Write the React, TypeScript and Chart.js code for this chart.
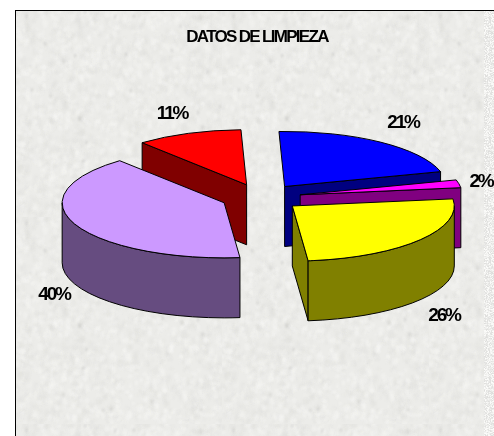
import React, { useEffect, useRef } from "react";
import { Chart, registerables } from "chart.js";

Chart.register(...registerables);

// ---- data ----
const categories = ["Azul", "Magenta", "Amarillo", "Lila", "Rojo"];
const values = [21.2, 2.3, 25.5, 40.4, 10.6];
const topColors = ["#0000FF", "#FF00FF", "#FFFF00", "#CC99FF", "#FF0000"];
const wallColors = ["#000080", "#800080", "#808000", "#664C80", "#800000"];
const titleText = "DATOS DE LIMPIEZA";

// ---- layout (not data) ----
const labelPositions: [number, number][] = [
  [403, 123],
  [481, 182],
  [444, 316],
  [54, 295],
  [172, 114],
];
const TILT = 0.34;
const EXPLODE = 40;
const DEPTH = 60;
const RADIUS = 162;

function makeTile(): HTMLCanvasElement {
  const size = 207;
  const c = document.createElement("canvas");
  c.width = size;
  c.height = size;
  const g = c.getContext("2d")!;
  g.fillStyle = "#ECECE9";
  g.fillRect(0, 0, size, size);
  let s = 12345;
  const next = () => {
    s = (s * 1103515245 + 12345) & 0x7fffffff;
    return s / 0x7fffffff;
  };
  g.filter = "blur(0.8px)";
  for (let i = 0; i < 2600; i++) {
    const x = next() * size;
    const y = next() * size;
    const r = 0.8 + next() * 2;
    const light = next() > 0.45;
    g.fillStyle = light ? "rgba(248,248,246,0.4)" : "rgba(222,222,219,0.3)";
    g.beginPath();
    g.ellipse(x, y, r, r * (0.7 + next()), 0, 0, Math.PI * 2);
    g.fill();
  }
  for (let i = 0; i < 28; i++) {
    const x = next() * size;
    const y = next() * size;
    g.fillStyle = "rgba(175,175,172,0.45)";
    g.beginPath();
    g.ellipse(x, y, 0.9, 2, 0, 0, Math.PI * 2);
    g.fill();
  }
  return c;
}

function makeStrip(): HTMLCanvasElement {
  const w = 10;
  const h = 120;
  const c = document.createElement("canvas");
  c.width = w;
  c.height = h;
  const g = c.getContext("2d")!;
  let s = 777;
  for (let y = 0; y < h; y++) {
    for (let x = 0; x < w; x++) {
      s = (s * 1103515245 + 12345) & 0x7fffffff;
      const v = 222 + Math.floor((s / 0x7fffffff) * 32);
      g.fillStyle = `rgb(${v},${v},${v - 2})`;
      g.fillRect(x, y, 1, 1);
    }
  }
  return c;
}

const paperPlugin = {
  id: "paper",
  beforeDraw(chart: any) {
    const { ctx, width, height } = chart;
    ctx.save();
    ctx.fillStyle = "#FFFFFF";
    ctx.fillRect(0, 0, width, height);
    ctx.translate(15, 10);
    ctx.fillStyle = ctx.createPattern(makeTile(), "repeat");
    ctx.fillRect(0, 0, width - 15, height - 10);
    ctx.restore();
    ctx.save();
    ctx.translate(484, 0);
    ctx.fillStyle = ctx.createPattern(makeStrip(), "repeat");
    ctx.fillRect(0, 11, 10, height - 11);
    ctx.restore();
    ctx.fillStyle = "#000000";
    ctx.fillRect(15, 10, width - 15, 1);
    ctx.fillRect(15, 10, 1, height - 10);
  },
};

function apex(arc: any) {
  const mid = (arc.startAngle + arc.endAngle) / 2;
  return {
    x: arc.x + EXPLODE * Math.cos(mid),
    y: arc.y + EXPLODE * TILT * Math.sin(mid),
  };
}

function drawFace(ctx: any, a: any, angle: number, r: number) {
  const ex = a.x + r * Math.cos(angle);
  const ey = a.y + r * TILT * Math.sin(angle);
  ctx.beginPath();
  ctx.moveTo(a.x, a.y);
  ctx.lineTo(ex, ey);
  ctx.lineTo(ex, ey + DEPTH);
  ctx.lineTo(a.x, a.y + DEPTH);
  ctx.closePath();
  ctx.fill();
  ctx.stroke();
}

const pie3dPlugin = {
  id: "pie3d",
  beforeDatasetsDraw(chart: any) {
    const { ctx } = chart;
    const arcs = chart.getDatasetMeta(0).data;
    ctx.save();
    ctx.lineWidth = 1;
    ctx.strokeStyle = "#000000";
    ctx.lineJoin = "round";
    // walls, back to front
    arcs.forEach((arc: any, i: number) => {
      const a = apex(arc);
      const r = arc.outerRadius;
      ctx.fillStyle = wallColors[i];
      const t0 = arc.startAngle;
      const t1 = arc.endAngle;
      // radial faces turned to the viewer
      if (Math.sin(t0 + Math.PI / 2) < -0.05) drawFace(ctx, a, t0, r);
      if (Math.sin(t1 + Math.PI / 2) > 0) drawFace(ctx, a, t1, r);
      // outer rim on the front half of the ellipse
      const f0 = Math.max(t0, 0);
      const f1 = Math.min(t1, Math.PI);
      if (f1 > f0) {
        ctx.beginPath();
        ctx.ellipse(a.x, a.y, r, r * TILT, 0, f0, f1);
        ctx.ellipse(a.x, a.y + DEPTH, r, r * TILT, 0, f1, f0, true);
        ctx.closePath();
        ctx.fill();
        ctx.stroke();
      }
    });
    // tops, drawn by the library's own arc elements
    arcs.forEach((arc: any) => {
      const a = apex(arc);
      ctx.save();
      ctx.translate(a.x, a.y);
      ctx.scale(1, TILT);
      ctx.translate(-arc.x, -arc.y);
      arc.draw(ctx);
      ctx.restore();
      ctx.beginPath();
      ctx.moveTo(a.x, a.y);
      ctx.ellipse(a.x, a.y, arc.outerRadius, arc.outerRadius * TILT, 0, arc.startAngle, arc.endAngle);
      ctx.closePath();
      ctx.stroke();
    });
    ctx.restore();
    return false;
  },
  afterDraw(chart: any) {
    const { ctx } = chart;
    ctx.save();
    ctx.fillStyle = "#000000";
    ctx.textAlign = "center";
    ctx.textBaseline = "middle";
    ctx.font = 'bold 17px "Liberation Sans", Arial, sans-serif';
    ctx.letterSpacing = "-1.7px";
    ctx.fillText(titleText, 257, 37);
    ctx.font = 'bold 19px "Liberation Sans", Arial, sans-serif';
    ctx.letterSpacing = "-2.2px";
    values.forEach((v, i) => {
      ctx.fillText(`${Math.round(v)}%`, labelPositions[i][0], labelPositions[i][1]);
    });
    ctx.restore();
  },
};

export default function App() {
  const ref = useRef<HTMLCanvasElement>(null);
  useEffect(() => {
    const chart = new Chart(ref.current!, {
      type: "pie",
      data: {
        labels: categories,
        datasets: [
          {
            data: values,
            backgroundColor: topColors,
            borderWidth: 0,
          },
        ],
      },
      options: {
        responsive: false,
        animation: false,
        rotation: -2,
        radius: RADIUS,
        layout: { padding: { left: 28, bottom: 41 } },
        plugins: {
          legend: { display: false },
          title: { display: false },
          tooltip: { enabled: false },
        },
      },
      plugins: [paperPlugin, pie3dPlugin],
    } as any);
    return () => chart.destroy();
  }, []);
  return (
    <canvas
      ref={ref}
      width={494}
      height={436}
      style={{ position: "absolute", left: 0, top: 0, display: "block" }}
    />
  );
}
